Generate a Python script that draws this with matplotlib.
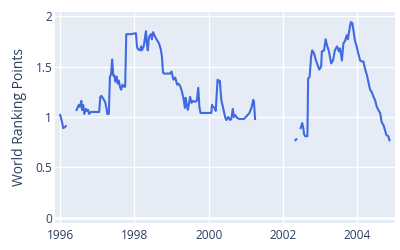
import numpy as np
import matplotlib
matplotlib.use("Agg")
import matplotlib.pyplot as plt

nan = np.nan
years = [
    1996.00, 1996.05, 1996.08, 1996.13, 1996.15, nan,
    1996.44, 1996.50, 1996.53, 1996.57, 1996.59, 1996.62, 1996.65, 1996.69, 1996.72, 1996.75,
    1996.78, 1996.83, 1996.95, 1997.05, 1997.08, 1997.11, 1997.16, 1997.21, 1997.24, 1997.27,
    1997.31, 1997.34, 1997.37, 1997.40, 1997.43, 1997.46, 1997.49, 1997.52, 1997.55, 1997.58,
    1997.61, 1997.64, 1997.68, 1997.72, 1997.75, 1997.78, 1997.90, 1998.04, 1998.07, 1998.10,
    1998.15, 1998.18, 1998.20, 1998.25, 1998.31, 1998.33, 1998.36, 1998.39, 1998.42, 1998.45,
    1998.47, 1998.50, 1998.53, 1998.55, 1998.61, 1998.66, 1998.71, 1998.74, 1998.77, 1998.80,
    1998.96, 1999.00, 1999.05, 1999.10, 1999.15, 1999.19, 1999.24, 1999.28, 1999.33, 1999.36,
    1999.38, 1999.41, 1999.44, 1999.50, 1999.54, 1999.58, 1999.63, 1999.68, 1999.72, 1999.75,
    1999.78, 2000.00, 2000.07, 2000.09, 2000.12, 2000.16, 2000.19, 2000.24, 2000.27, 2000.30,
    2000.34, 2000.37, 2000.42, 2000.45, 2000.48, 2000.53, 2000.58, 2000.61, 2000.65, 2000.68,
    2000.71, 2000.77, 2000.83, 2000.95, 2001.10, 2001.16, 2001.20, 2001.22, 2001.25, nan,
    2002.34, 2002.36, nan,
    2002.48, 2002.52, 2002.55, 2002.57, 2002.60, 2002.66, 2002.68, 2002.72, 2002.76, 2002.79,
    2002.84, 2002.89, 2002.92, 2002.98, 2003.03, 2003.05, 2003.11, 2003.15, 2003.19, 2003.24,
    2003.30, 2003.35, 2003.40, 2003.46, 2003.51, 2003.54, 2003.59, 2003.63, 2003.67, 2003.72,
    2003.75, 2003.79, 2003.83, 2003.87, 2003.90, 2003.94, 2003.98, 2004.03, 2004.08, 2004.13,
    2004.17, 2004.21, 2004.26, 2004.30, 2004.35, 2004.39, 2004.44, 2004.48, 2004.53, 2004.57,
    2004.62, 2004.66, 2004.71, 2004.75, 2004.79, 2004.84, 2004.87,
]
points = [
    1.02, 0.95, 0.89, 0.90, 0.91, nan,
    1.07, 1.12, 1.10, 1.16, 1.07, 1.12, 1.03, 1.08, 1.06, 1.07,
    1.03, 1.05, 1.05, 1.05, 1.20, 1.21, 1.18, 1.15, 1.10, 1.03,
    1.03, 1.40, 1.42, 1.57, 1.41, 1.41, 1.35, 1.40, 1.33, 1.36,
    1.30, 1.27, 1.32, 1.30, 1.30, 1.82, 1.82, 1.83, 1.69, 1.67,
    1.66, 1.70, 1.66, 1.70, 1.85, 1.74, 1.66, 1.79, 1.81, 1.82,
    1.77, 1.84, 1.82, 1.80, 1.76, 1.73, 1.67, 1.60, 1.44, 1.43,
    1.43, 1.45, 1.37, 1.39, 1.32, 1.33, 1.30, 1.25, 1.17, 1.09,
    1.19, 1.12, 1.07, 1.20, 1.14, 1.16, 1.15, 1.16, 1.29, 1.10,
    1.04, 1.04, 1.04, 1.12, 1.10, 1.09, 1.06, 1.37, 1.35, 1.36,
    1.17, 1.12, 1.04, 0.99, 0.97, 1.00, 0.97, 0.98, 1.08, 1.00,
    1.02, 0.99, 0.98, 0.98, 1.04, 1.10, 1.17, 1.15, 0.98, nan,
    0.77, 0.78, nan,
    0.89, 0.94, 0.89, 0.83, 0.81, 0.81, 1.38, 1.40, 1.60, 1.66,
    1.63, 1.56, 1.53, 1.47, 1.50, 1.65, 1.66, 1.77, 1.71, 1.65,
    1.53, 1.56, 1.66, 1.70, 1.65, 1.68, 1.56, 1.73, 1.75, 1.81,
    1.77, 1.86, 1.94, 1.93, 1.86, 1.76, 1.71, 1.63, 1.56, 1.55,
    1.55, 1.48, 1.42, 1.35, 1.27, 1.25, 1.20, 1.17, 1.10, 1.07,
    1.04, 0.95, 0.92, 0.87, 0.82, 0.81, 0.77,
]
xticks = [1996, 1998, 2000, 2002, 2004]
yticks = [0, 0.5, 1, 1.5, 2]
ytick_labels = ["0", "0.5", "1", "1.5", "2"]

txt = "#2a3f5f"
fig = plt.figure(figsize=(4, 2.5), dpi=100)
ax = fig.add_axes([55/400, 1 - 223/250, 340/400, 211/250])
ax.set_facecolor("#E5ECF6")
ax.plot(years, points, color="#4169E1", lw=1.5, solid_joinstyle="round")
ax.set_xlim(1995.86, 2005.02)
ax.set_ylim(-0.05, 2.04)
ax.set_xticks(xticks)
ax.set_xticklabels([str(t) for t in xticks])
ax.set_yticks(yticks)
ax.set_yticklabels(ytick_labels)
ax.grid(True, color="white", lw=1)
ax.axhline(0, color="white", lw=2, zorder=1.5)
ax.set_axisbelow(True)
for s in ax.spines.values():
    s.set_visible(False)
ax.tick_params(length=0, labelsize=8.6, labelcolor=txt, pad=2)
ax.tick_params(axis="x", pad=4)
for lab in ax.get_xticklabels() + ax.get_yticklabels():
    lab.set_family("Open Sans")
ax.set_ylabel("World Ranking Points", fontsize=10, color=txt, family="Open Sans", labelpad=6)
fig.savefig("out.png", dpi=100)
